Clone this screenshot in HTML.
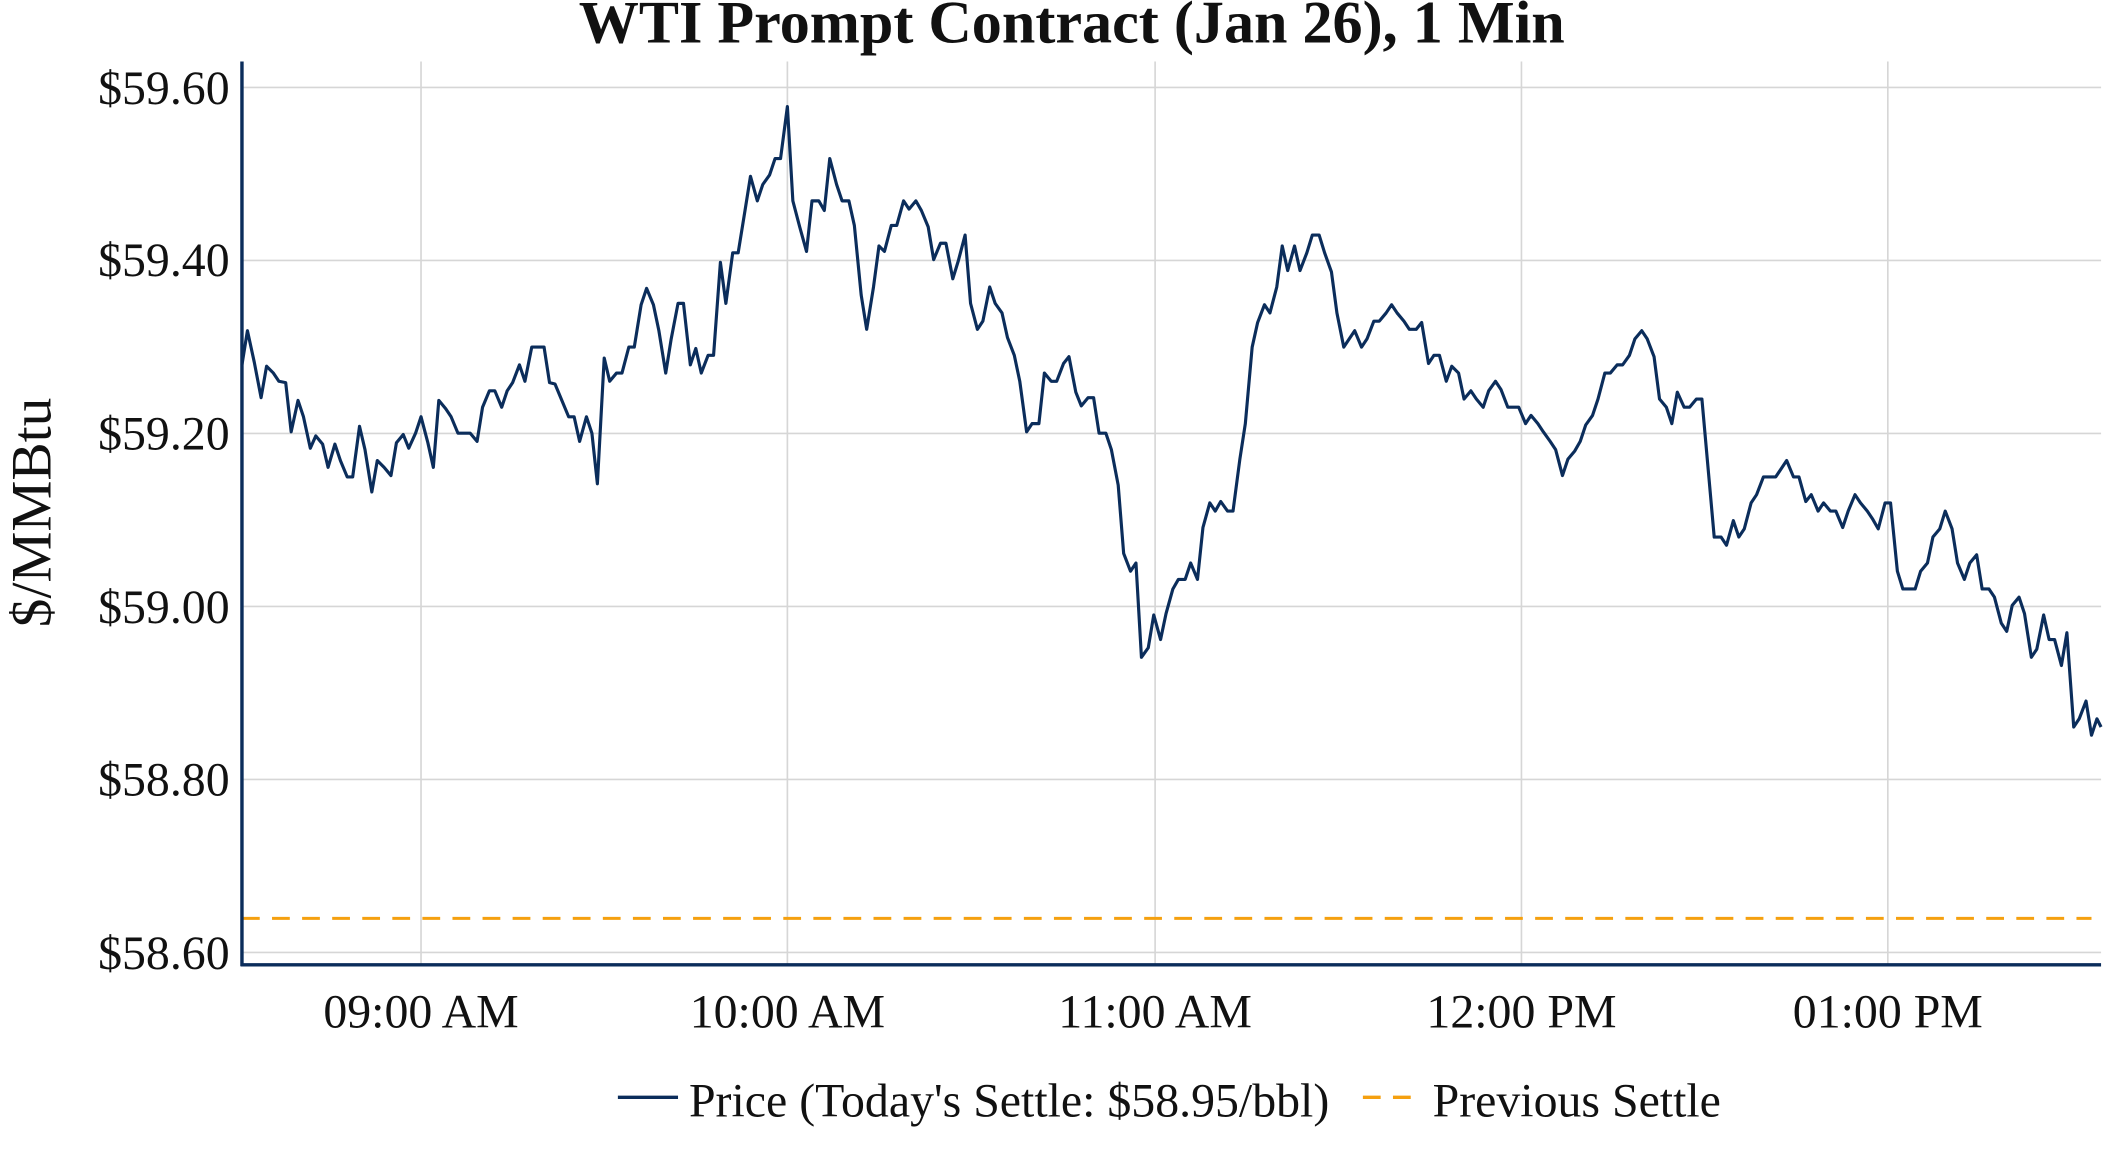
<!DOCTYPE html>
<html><head><meta charset="utf-8"><style>
html,body{margin:0;padding:0;background:#fff;}
svg{display:block;}
text{font-family:"Liberation Serif",serif;fill:#111;}
</style></head><body>
<svg width="2112" height="1152" viewBox="0 0 1545 843" preserveAspectRatio="none" xmlns="http://www.w3.org/2000/svg">
<text x="784" y="31" text-anchor="middle" font-size="44" font-weight="bold">WTI Prompt Contract (Jan 26), 1 Min</text>
<g stroke="#d6d6d6" stroke-width="1.2">
<line x1="177" x2="1537" y1="64" y2="64"/><line x1="177" x2="1537" y1="190.6" y2="190.6"/>
<line x1="177" x2="1537" y1="317.2" y2="317.2"/><line x1="177" x2="1537" y1="443.8" y2="443.8"/>
<line x1="177" x2="1537" y1="570.4" y2="570.4"/><line x1="177" x2="1537" y1="697" y2="697"/>
<line x1="308" x2="308" y1="45" y2="706"/><line x1="576" x2="576" y1="45" y2="706"/>
<line x1="845" x2="845" y1="45" y2="706"/><line x1="1113" x2="1113" y1="45" y2="706"/>
<line x1="1381" x2="1381" y1="45" y2="706"/>
</g>
<line x1="177" x2="1530" y1="672" y2="672" stroke="#f5a00f" stroke-width="2.2" stroke-dasharray="13,9"/>
<polyline fill="none" stroke="#0b2d5b" stroke-width="2.3" stroke-linejoin="round" points="177,267 181,242 186,265 191,291 195,268 200,273 204,279 209,280 213,316 218,293 222,305 227,328 231,319 236,325 240,342 245,325 249,337 254,349 258,349 263,312 267,329 272,360 276,337 281,342 286,348 290,324 295,318 299,328 304,317 308,305 313,324 317,342 321,293 326,299 330,305 335,317 344,317 349,323 353,298 358,286 362,286 367,298 371,286 375,280 380,267 384,279 389,254 398,254 402,280 406,281 411,293 416,305 420,305 424,323 429,305 433,317 437,354 442,262 446,279 451,273 455,273 460,254 464,254 469,223 473,211 478,223 482,242 487,273 491,248 496,222 500,222 505,267 509,255 513,273 518,260 522,260 527,192 531,222 536,185 540,185 545,154 549,129 554,147 558,135 563,128 567,116 571,116 576,78 580,147 585,166 590,184 594,147 599,147 603,154 607,116 612,135 616,147 621,147 625,165 630,216 634,241 639,210 643,180 647,184 652,165 656,165 661,147 665,153 670,147 674,154 679,166 683,190 688,178 692,178 697,204 701,191 706,172 710,222 715,241 719,235 724,210 728,222 733,229 737,247 742,260 746,279 751,316 755,310 760,310 764,273 769,279 773,279 778,266 782,261 787,287 791,297 796,291 800,291 804,317 809,317 813,329 818,355 822,405 827,418 831,412 835,481 840,474 844,450 849,468 853,449 858,431 862,424 867,424 871,412 876,424 880,386 885,368 889,374 893,367 898,374 902,374 907,336 911,310 916,254 920,236 925,223 929,229 934,210 938,180 942,198 947,180 951,198 956,185 960,172 965,172 969,185 974,199 978,229 983,254 987,248 991,242 996,254 1000,248 1005,235 1009,235 1014,229 1018,223 1022,229 1027,235 1031,241 1036,241 1040,236 1045,266 1049,260 1053,260 1058,279 1062,268 1067,273 1071,292 1076,286 1080,292 1085,298 1089,286 1094,279 1098,285 1103,298 1111,298 1116,310 1120,304 1125,310 1129,316 1134,323 1138,329 1143,348 1147,336 1152,330 1156,323 1160,311 1165,304 1169,292 1174,273 1178,273 1183,267 1187,267 1192,260 1196,248 1201,242 1205,248 1210,261 1214,292 1219,298 1223,310 1227,287 1232,298 1236,298 1241,292 1245,292 1250,348 1254,393 1259,393 1263,399 1268,381 1272,393 1276,387 1281,368 1285,362 1290,349 1294,349 1299,349 1303,343 1307,337 1312,349 1316,349 1321,367 1325,362 1330,374 1334,368 1339,374 1343,374 1348,386 1352,374 1357,362 1361,368 1366,374 1370,380 1374,387 1379,368 1383,368 1388,418 1392,431 1401,431 1405,418 1410,412 1414,393 1419,387 1423,374 1428,387 1432,412 1437,424 1441,412 1446,406 1450,431 1455,431 1459,437 1464,456 1468,462 1472,443 1477,437 1481,449 1486,481 1490,475 1495,450 1499,468 1503,468 1508,487 1512,463 1517,532 1521,526 1526,513 1530,538 1534,526 1537,532"/>
<line x1="177" x2="177" y1="45" y2="707" stroke="#0b2d5b" stroke-width="2.5"/>
<line x1="176" x2="1537" y1="706" y2="706" stroke="#0b2d5b" stroke-width="2.5"/>
<g font-size="35" text-anchor="end">
<text x="168" y="76">$59.60</text><text x="168" y="202">$59.40</text>
<text x="168" y="329">$59.20</text><text x="168" y="456">$59.00</text>
<text x="168" y="582">$58.80</text><text x="168" y="709">$58.60</text>
</g>
<text transform="translate(37,375) rotate(-90)" text-anchor="middle" font-size="42">$/MMBtu</text>
<g font-size="35" text-anchor="middle">
<text x="308" y="752">09:00 AM</text><text x="576" y="752">10:00 AM</text>
<text x="845" y="752">11:00 AM</text><text x="1113" y="752">12:00 PM</text>
<text x="1381" y="752">01:00 PM</text>
</g>
<line x1="452" x2="496" y1="803" y2="803" stroke="#0b2d5b" stroke-width="2.5"/>
<text x="504" y="817" font-size="35">Price (Today's Settle: $58.95/bbl)</text>
<line x1="997" x2="1041" y1="803" y2="803" stroke="#f5a00f" stroke-width="2.5" stroke-dasharray="13,9"/>
<text x="1048" y="817" font-size="35">Previous Settle</text>
</svg>
</body></html>
